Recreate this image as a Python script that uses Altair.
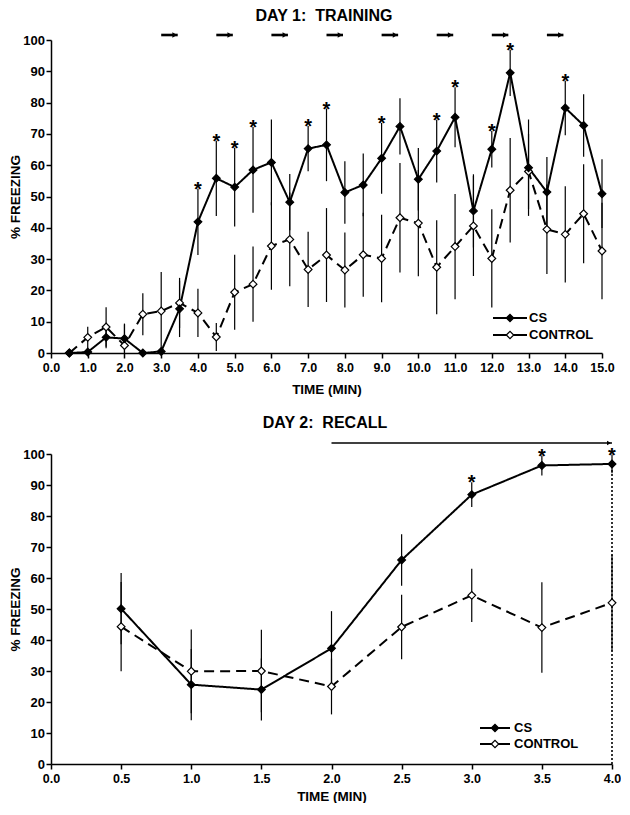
import altair as alt
import pandas as pd

# ---------------- data ----------------
TIME1 = [0.5, 1.0, 1.5, 2.0, 2.5, 3.0, 3.5, 4.0, 4.5, 5.0, 5.5, 6.0, 6.5, 7.0, 7.5,
         8.0, 8.5, 9.0, 9.5, 10.0, 10.5, 11.0, 11.5, 12.0, 12.5, 13.0, 13.5, 14.0, 14.5, 15.0]
CS1 = [0, 0.3, 5.0, 4.6, 0, 0.5, 14.1, 41.9, 55.8, 53.0, 58.5, 60.9, 48.2, 65.3, 66.5,
       51.3, 53.7, 62.2, 72.4, 55.5, 64.5, 75.3, 45.4, 65.1, 89.5, 59.2, 51.4, 78.3, 72.7, 50.9]
CS1_ERR = [0, 0.3, 3.5, 4.5, 0, 0.5, 9.0, 10.6, 12.0, 12.6, 13.7, 13.7, 9.0, 7.2, 11.6,
           10.0, 10.0, 11.3, 9.0, 10.0, 10.0, 9.6, 11.7, 5.8, 7.4, 15.4, 11.2, 8.7, 10.0, 11.0]
CTRL1 = [0, 5.0, 8.3, 2.4, 12.4, 13.4, 16.0, 12.8, 5.1, 19.4, 22.0, 34.2, 36.3, 26.7, 31.3,
         26.5, 31.4, 30.2, 43.2, 41.5, 27.4, 34.0, 40.6, 30.2, 52.0, 58.0, 39.5, 37.9, 44.5, 32.6]
CTRL1_ERR = [0, 3.4, 6.3, 7.0, 6.7, 12.5, 8.0, 7.7, 4.5, 12.0, 12.0, 14.0, 15.0, 12.0, 15.0,
             12.0, 13.4, 14.0, 17.5, 17.0, 15.0, 16.8, 16.0, 15.7, 16.7, 12.0, 14.3, 15.4, 15.8, 15.4]
STARS1 = [4.0, 4.5, 5.0, 5.5, 7.0, 7.5, 9.0, 10.5, 11.0, 12.0, 12.5, 14.0]
CS_ONSETS1 = [3.0, 4.5, 6.0, 7.5, 9.0, 10.5, 12.0, 13.5]
X_TICKS1 = [float(i) for i in range(0, 16)]

TIME2 = [0.5, 1.0, 1.5, 2.0, 2.5, 3.0, 3.5, 4.0]
CS2 = [50.1, 25.6, 24.0, 37.3, 65.8, 86.9, 96.3, 96.8]
CS2_ERR = [11.5, 11.5, 10.0, 12.0, 8.3, 4.0, 3.2, 3.0]
CTRL2 = [44.3, 29.9, 30.0, 25.0, 44.2, 54.4, 44.0, 52.0]
CTRL2_ERR = [14.4, 13.5, 13.3, 9.0, 10.4, 8.6, 14.6, 15.5]
STARS2 = [3.0, 3.5, 4.0]
CS_ONSET2 = [2.0]
X_TICKS2 = [0.0, 0.5, 1.0, 1.5, 2.0, 2.5, 3.0, 3.5, 4.0]

Y_TICKS = list(range(0, 101, 10))
GROUPS = ["CS", "CONTROL"]
FONT = "Liberation Sans"
NB = "\u00a0"


def long_df(time, cs, cs_err, ctrl, ctrl_err):
    rows = []
    for g, vals, errs in [("CONTROL", ctrl, ctrl_err), ("CS", cs, cs_err)]:
        for t, v, e in zip(time, vals, errs):
            rows.append(dict(time=t, group=g, value=v, err=e,
                             lo=max(v - e, 0), hi=v + e, base=0))
    return pd.DataFrame(rows)


def panel(df, stars, onsets, arrow_end, xmax, xticks, width, height,
          title, title_x, title_y, arrow_y, arrow_w, legend, x_title_pad, dotted=False):
    def xenc(field):
        return alt.X(f"{field}:Q",
                     scale=alt.Scale(domain=[0, xmax], nice=False, zero=False),
                     axis=alt.Axis(values=xticks, format=".1f", title="TIME (MIN)",
                                   titlePadding=x_title_pad, labelOverlap=False,
                                   labelFlush=False, labelFontSize=12.5))

    def yenc(field):
        return alt.Y(f"{field}:Q",
                     scale=alt.Scale(domain=[0, 100], nice=False),
                     axis=alt.Axis(values=Y_TICKS, format="d", title="% FREEZING",
                                   titleX=-29, titleBaseline="bottom",
                                   labelFlush=False, labelFontSize=13))

    base = alt.Chart(df)
    errbars = base.transform_filter("datum.err > 0").mark_rule(
        color="black", strokeWidth=1.2
    ).encode(x=xenc("time"), y=yenc("lo"), y2="hi:Q")

    lines = base.mark_line(color="black", strokeWidth=2).encode(
        x=xenc("time"), y=yenc("value"),
        detail="group:N",
        strokeDash=alt.StrokeDash("group:N",
                                  scale=alt.Scale(domain=GROUPS, range=[[1, 0], [10, 6]]),
                                  legend=None),
    )
    points = base.mark_point(shape="diamond", filled=True, size=60,
                             stroke="black", strokeWidth=1.2, opacity=1).encode(
        x=xenc("time"), y=yenc("value"),
        fill=alt.Fill("group:N", scale=alt.Scale(domain=GROUPS, range=["black", "white"]),
                      legend=None),
    )

    star_df = df[(df.group == "CS") & (df.time.isin(stars))]
    star_marks = alt.Chart(star_df).mark_text(
        text="*", font=FONT, fontSize=20, fontWeight="bold", color="black",
        baseline="alphabetic", dy=7
    ).encode(x=xenc("time"), y=yenc("hi"))

    arr_df = pd.DataFrame({"start": onsets, "end": arrow_end})
    arrows = alt.Chart(arr_df).mark_rule(color="black", strokeWidth=arrow_w).encode(
        x=xenc("start"), x2="end:Q", y=alt.value(arrow_y))
    heads = alt.Chart(arr_df).mark_point(shape="triangle-right", filled=True,
                                         color="black", size=30 if arrow_w > 2 else 22,
                                         opacity=1, xOffset=-3).encode(
        x=xenc("end"), y=alt.value(arrow_y))

    one = alt.Data(values=[{"k": 1}])
    title_mark = alt.Chart(one).mark_text(
        text=title, font=FONT, fontSize=16, fontWeight="bold", color="black",
        align="center", baseline="middle"
    ).encode(x=alt.value(title_x), y=alt.value(title_y))

    layers = [errbars, lines, points, star_marks, arrows, heads, title_mark]

    if dotted:
        dot_df = df[(df.group == "CS") & (df.time == xmax)]
        layers.insert(0, alt.Chart(dot_df).mark_rule(
            color="black", strokeWidth=1.6, strokeDash=[2, 2]
        ).encode(x=xenc("time"), y=yenc("base"), y2="value:Q"))

    lx0, lx1, ly0, ly1, tx = legend
    for label, ly, fill in [("CS", ly0, "black"), ("CONTROL", ly1, "white")]:
        layers.append(alt.Chart(one).mark_rule(color="black", strokeWidth=2).encode(
            x=alt.value(lx0), x2=alt.value(lx1), y=alt.value(ly)))
        layers.append(alt.Chart(one).mark_point(
            shape="diamond", filled=True, fill=fill, stroke="black", strokeWidth=1.2,
            size=55, opacity=1).encode(x=alt.value((lx0 + lx1) / 2), y=alt.value(ly)))
        layers.append(alt.Chart(one).mark_text(
            text=label, font=FONT, fontSize=13, fontWeight="bold", color="black",
            align="left", baseline="middle").encode(x=alt.value(tx), y=alt.value(ly)))

    return alt.layer(*layers).properties(width=width, height=height)


df1 = long_df(TIME1, CS1, CS1_ERR, CTRL1, CTRL1_ERR)
df2 = long_df(TIME2, CS2, CS2_ERR, CTRL2, CTRL2_ERR)

top = panel(df1, STARS1, CS_ONSETS1, [t + 0.45 for t in CS_ONSETS1], 15, X_TICKS1,
            551, 313, "DAY 1:" + NB + NB + "TRAINING", 273, -24, -5, 2.6,
            (442, 476, 278, 295, 478), 9)
bottom = panel(df2, STARS2, CS_ONSET2, [TIME2[-1]], 4, X_TICKS2,
               561, 310, "DAY 2:" + NB + NB + "RECALL", 274, -31, -11, 1.5,
               (429, 459, 274, 290, 463), 5, dotted=True)

chart = alt.vconcat(top, bottom, spacing=101, bounds="flush", padding=0).configure_view(
    stroke=None
).configure_axis(
    grid=False,
    domainColor="black", domainWidth=1.5,
    tickColor="black", tickWidth=1.5, tickSize=5,
    labelFont=FONT, labelFontWeight="bold", labelColor="black",
    titleFont=FONT, titleFontSize=13.5, titleFontWeight="bold", titleColor="black",
).configure_axisY(labelPadding=1.5).configure_axisX(labelPadding=3)

chart.save("out.html", embed_options={"renderer": "svg", "actions": False})
